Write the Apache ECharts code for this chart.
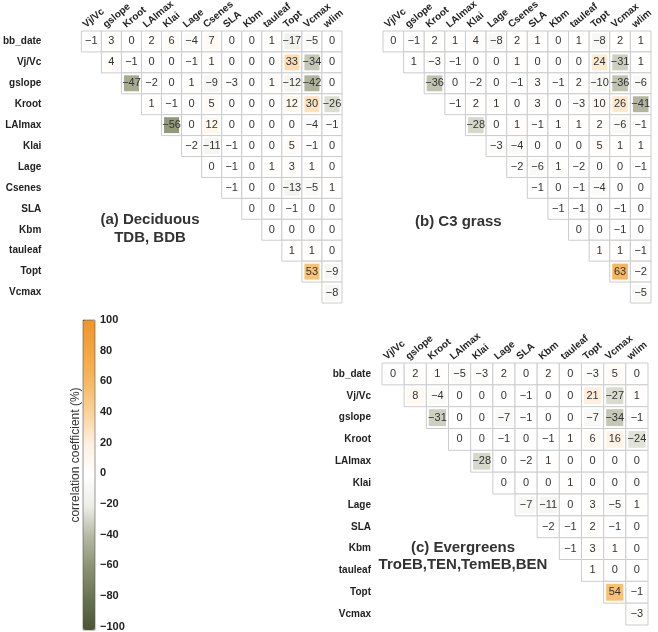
<!DOCTYPE html>
<html>
<head>
<meta charset="utf-8">
<script src="https://cdn.jsdelivr.net/npm/echarts@6/dist/echarts.min.js"></script>
<style>
  html, body { margin: 0; padding: 0; background: #fff; }
  #chart { width: 658px; height: 632px; }
</style>
</head>
<body>
<div id="chart"></div>
<script>
// variable names (rows / columns of the triangles)
var rowsAB = ['bb_date', 'Vj/Vc', 'gslope', 'Kroot', 'LAImax', 'Klai', 'Lage', 'Csenes', 'SLA', 'Kbm', 'tauleaf', 'Topt', 'Vcmax'];
var colsAB = ['Vj/Vc', 'gslope', 'Kroot', 'LAImax', 'Klai', 'Lage', 'Csenes', 'SLA', 'Kbm', 'tauleaf', 'Topt', 'Vcmax', 'wlim'];
var rowsC = ['bb_date', 'Vj/Vc', 'gslope', 'Kroot', 'LAImax', 'Klai', 'Lage', 'SLA', 'Kbm', 'tauleaf', 'Topt', 'Vcmax'];
var colsC = ['Vj/Vc', 'gslope', 'Kroot', 'LAImax', 'Klai', 'Lage', 'SLA', 'Kbm', 'tauleaf', 'Topt', 'Vcmax', 'wlim'];

// correlation (%) - each row starts at the diagonal
var valsA = [
  [-1, 3, 0, 2, 6, -4, 7, 0, 0, 1, -17, -5, 0],
  [4, -1, 0, 0, -1, 1, 0, 0, 0, 33, -34, 0],
  [-47, -2, 0, 1, -9, -3, 0, 1, -12, -42, 0],
  [1, -1, 0, 5, 0, 0, 0, 12, 30, -26],
  [-56, 0, 12, 0, 0, 0, 0, -4, -1],
  [-2, -11, -1, 0, 0, 5, -1, 0],
  [0, -1, 0, 1, 3, 1, 0],
  [-1, 0, 0, -13, -5, 1],
  [0, 0, -1, 0, 0],
  [0, 0, 0, 0],
  [1, 1, 0],
  [53, -9],
  [-8]
];
var valsB = [
  [0, -1, 2, 1, 4, -8, 2, 1, 0, 1, -8, 2, 1],
  [1, -3, -1, 0, 0, 1, 0, 0, 0, 24, -31, 1],
  [-36, 0, -2, 0, -1, 3, -1, 2, -10, -36, -6],
  [-1, 2, 1, 0, 3, 0, -3, 10, 26, -41],
  [-28, 0, 1, -1, 1, 1, 2, -6, -1],
  [-3, -4, 0, 0, 0, 5, 1, 1],
  [-2, -6, 1, -2, 0, 0, -1],
  [-1, 0, -1, -4, 0, 0],
  [-1, -1, 0, -1, 0],
  [0, 0, -1, 0],
  [1, 1, -1],
  [63, -2],
  [-5]
];
var valsC = [
  [0, 2, 1, -5, -3, 2, 0, 2, 0, -3, 5, 0],
  [8, -4, 0, 0, 0, -1, 0, 0, 21, -27, 1],
  [-31, 0, 0, -7, -1, 0, 0, -7, -34, -1],
  [0, 0, -1, 0, -1, 1, 6, 16, -24],
  [-28, 0, -2, 1, 0, 0, 0, 0],
  [0, 0, 0, 1, 0, 0, 0],
  [-7, -11, 0, 3, -5, 1],
  [-2, -1, 2, -1, 0],
  [-1, 3, 1, 0],
  [1, 0, 0],
  [54, -1],
  [-3]
];

function toCells(vals) {
  var out = [];
  vals.forEach(function (row, i) {
    row.forEach(function (v, k) {
      out.push([i + k, i, v]);
    });
  });
  return out;
}

function fmt(v) {
  return v < 0 ? '\u2212' + (-v) : String(v);
}

function cellRender(params, api) {
  var p = api.coord([api.value(0), api.value(1)]);
  var s = api.size([1, 1]);
  var w = s[0], h = s[1];
  return {
    type: 'group',
    children: [
      { type: 'rect', shape: { x: p[0] - w / 2, y: p[1] - h / 2, width: w, height: h },
        style: { fill: '#fff', stroke: '#cccccc', lineWidth: 1 } },
      { type: 'rect', shape: { x: p[0] - w / 2 + 2.5, y: p[1] - h / 2 + 2.5, width: w - 5, height: h - 5 },
        style: { fill: api.visual('color') } },
      { type: 'text', x: p[0], y: p[1],
        style: { text: fmt(api.value(2)), align: 'center', verticalAlign: 'middle',
                 fill: '#333', font: '11px "Liberation Sans", Arial' } }
    ]
  };
}

// slanted column names above the first row
function colLabelRender(cols) {
  return function (params, api) {
    var j = api.value(0);
    var p = api.coord([j, 0]);
    var s = api.size([1, 1]);
    return {
      type: 'text',
      x: p[0] - s[0] / 2 + 3,
      y: p[1] - s[1] / 2 - 5,
      rotation: 40 * Math.PI / 180,
      style: { text: cols[j], align: 'left', verticalAlign: 'middle',
               fill: '#222', font: 'bold 10px "Liberation Sans", Arial' }
    };
  };
}

function colIdx(cols) {
  return cols.map(function (c, j) { return [j, 0]; });
}

function xAx(idx, cols) {
  return {
    type: 'category', gridIndex: idx, data: cols, position: 'top',
    axisLine: { show: false }, axisTick: { show: false }, splitLine: { show: false },
    axisLabel: { show: false }
  };
}
function yAx(idx, rows, showLabel, margin) {
  return {
    type: 'category', gridIndex: idx, data: rows, inverse: true,
    axisLine: { show: false }, axisTick: { show: false }, splitLine: { show: false },
    axisLabel: { show: showLabel, margin: margin, fontSize: 10, fontWeight: 'bold', color: '#222', fontFamily: 'Liberation Sans' }
  };
}

var chart = echarts.init(document.getElementById('chart'));
chart.setOption({
  animation: false,
  backgroundColor: '#fff',
  grid: [
    { left: 72, top: 31, width: 270, height: 272 },
    { left: 383, top: 31, width: 268, height: 272 },
    { left: 382, top: 363, width: 266, height: 262 },
    { left: 83, top: 320, width: 12, height: 310 }
  ],
  xAxis: [
    xAx(0, colsAB), xAx(1, colsAB), xAx(2, colsC),
    { type: 'value', gridIndex: 3, show: false, min: 0, max: 1 }
  ],
  yAxis: [
    yAx(0, rowsAB, true, 40), yAx(1, rowsAB, false, 0), yAx(2, rowsC, true, 11),
    {
      type: 'value', gridIndex: 3, position: 'right', min: -100, max: 100, interval: 20,
      axisLine: { show: false }, splitLine: { show: false },
      axisTick: { show: true, length: 4, lineStyle: { color: '#333' } },
      axisLabel: { margin: 5, fontSize: 11, fontWeight: 'bold', color: '#222', fontFamily: 'Liberation Sans',
                   formatter: function (v) { return fmt(v); } }
    }
  ],
  visualMap: {
    type: 'continuous', min: -100, max: 100, dimension: 2, seriesIndex: [0, 1, 2],
    calculable: false, orient: 'vertical', left: 83, top: 320, padding: 0,
    itemWidth: 12, itemHeight: 310, text: null,
    inRange: {
      color: ['#4b5631', '#69724e', '#8a9171', '#b4b8a1', '#eceee6', '#ffffff',
              '#fef1e0', '#fbd29a', '#f7b862', '#f4a540', '#f0952a']
    }
  },
  graphic: [
    { type: 'text', x: 150, y: 229,
      style: { text: '(a) Deciduous\nTDB, BDB', align: 'center', verticalAlign: 'middle', lineHeight: 18,
               font: 'bold 15px "Liberation Sans", Arial', fill: '#333' } },
    { type: 'text', x: 415, y: 222,
      style: { text: '(b) C3 grass', align: 'left', verticalAlign: 'middle',
               font: 'bold 15px "Liberation Sans", Arial', fill: '#333' } },
    { type: 'text', x: 463, y: 556,
      style: { text: '(c) Evergreens\nTroEB,TEN,TemEB,BEN', align: 'center', verticalAlign: 'middle', lineHeight: 17,
               font: 'bold 15px "Liberation Sans", Arial', fill: '#333' } },
    { type: 'text', x: 76, y: 455, rotation: Math.PI / 2,
      style: { text: 'correlation coefficient (%)', align: 'center', verticalAlign: 'middle',
               font: '12px "Liberation Sans", Arial', fill: '#333' } },
    { type: 'rect', shape: { x: 83, y: 320, width: 12, height: 310 }, z: 100,
      style: { fill: 'none', stroke: '#555', lineWidth: 0.6 } }
  ],
  series: [
    { type: 'custom', xAxisIndex: 0, yAxisIndex: 0, renderItem: cellRender, data: toCells(valsA), encode: { x: 0, y: 1 } },
    { type: 'custom', xAxisIndex: 1, yAxisIndex: 1, renderItem: cellRender, data: toCells(valsB), encode: { x: 0, y: 1 } },
    { type: 'custom', xAxisIndex: 2, yAxisIndex: 2, renderItem: cellRender, data: toCells(valsC), encode: { x: 0, y: 1 } },
    { type: 'scatter', xAxisIndex: 3, yAxisIndex: 3, data: [], silent: true },
    { type: 'custom', xAxisIndex: 0, yAxisIndex: 0, renderItem: colLabelRender(colsAB), data: colIdx(colsAB), silent: true },
    { type: 'custom', xAxisIndex: 1, yAxisIndex: 1, renderItem: colLabelRender(colsAB), data: colIdx(colsAB), silent: true },
    { type: 'custom', xAxisIndex: 2, yAxisIndex: 2, renderItem: colLabelRender(colsC), data: colIdx(colsC), silent: true }
  ]
});
</script>
</body>
</html>
